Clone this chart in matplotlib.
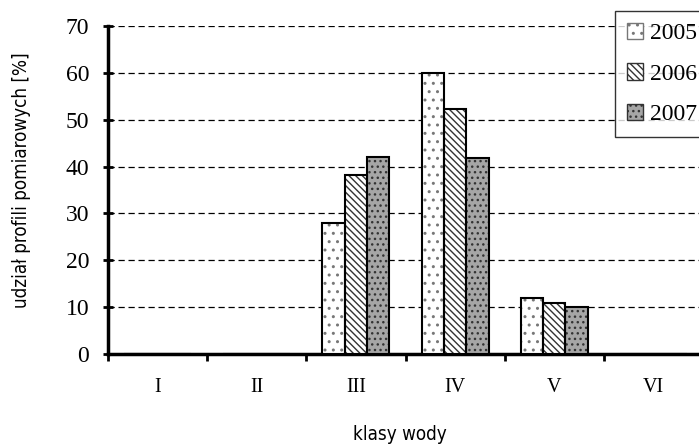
import matplotlib
matplotlib.use("Agg")
import matplotlib.pyplot as plt
import numpy as np
from matplotlib.patches import Patch

categories = ["I", "II", "III", "IV", "V", "VI"]
years = ["2005", "2006", "2007"]
v2005 = [0, 0, 28.0, 60.0, 11.9, 0]
v2006 = [0, 0, 38.2, 52.2, 10.8, 0]
v2007 = [0, 0, 42.0, 41.8, 10.1, 0]
series = [v2005, v2006, v2007]

faces = ["white", "white", "#a6a6a6"]
hatches = ["..", "\\\\\\\\\\", "..."]
hcolors = ["#777777", "#333333", "#333333"]

plt.rcParams['hatch.linewidth'] = 1.0
fig = plt.figure(figsize=(6.99, 4.48), dpi=100)
ax = fig.add_axes([108/699, 94/448, 595/699, 328/448])

x = np.arange(len(categories)) + 0.5
w = 0.225
for i, vals in enumerate(series):
    pos = x + (i - 1) * w
    ax.bar(pos, vals, w, color=faces[i], hatch=hatches[i], edgecolor=hcolors[i], linewidth=0, zorder=3)
    ax.bar(pos, vals, w, fill=False, edgecolor="black", linewidth=1.5, zorder=4)

ax.set_xlim(0, 6)
ax.set_ylim(0, 70)
ax.set_yticks(range(0, 71, 10))
ax.set_xticks(np.arange(0, 7))
ax.set_xticklabels([])
ax.set_xticks(x, minor=True)
ax.set_xticklabels(categories, minor=True, fontfamily="Liberation Serif", fontsize=14.5)
ax.tick_params(axis='x', which='minor', length=0, pad=17)
ax.tick_params(axis='x', which='major', length=5, width=2, direction='out')
ax.tick_params(axis='y', length=7, width=2, direction='inout', labelsize=17, pad=10)
for t in ax.get_yticklabels():
    t.set_fontfamily("Liberation Serif")
for s in ["top", "right"]:
    ax.spines[s].set_visible(False)
for s in ["left", "bottom"]:
    ax.spines[s].set_linewidth(2.5)
ax.yaxis.grid(True, linestyle=(0, (5, 3)), color="black", linewidth=0.9, zorder=0)
ax.set_axisbelow(True)

fig.text(22/699, 1 - 180/448, "udział profili pomiarowych [%]", rotation=90, ha="center", va="center",
         fontfamily="DejaVu Sans", fontstretch="condensed", fontsize=13.5)
fig.text(400/699, 1 - 434/448, "klasy wody", ha="center", va="center",
         fontfamily="DejaVu Sans", fontstretch="condensed", fontsize=13.5)

handles = [Patch(facecolor=faces[i], hatch=hatches[i], edgecolor=hcolors[i]) for i in range(3)]
leg = fig.legend(handles, years, loc="upper left", bbox_to_anchor=(615/699, 1 - 11/448),
                 prop={"family": "Liberation Serif", "size": 17}, frameon=True, fancybox=False,
                 edgecolor="black", handlelength=0.7, handleheight=0.7, handletextpad=0.3,
                 labelspacing=0.8, borderpad=0.5, borderaxespad=0)
leg.get_frame().set_linewidth(1.0)

fig.savefig("out.png", dpi=100)
